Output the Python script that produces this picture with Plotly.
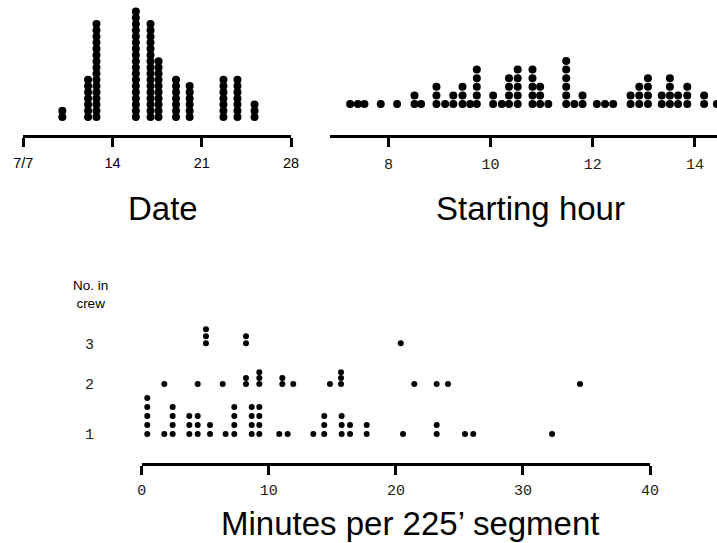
import plotly.graph_objects as go

W, H = 717, 543

# ---------------- data ----------------
# Date panel (day of July, dot-stack centres) and number of dots per stack
date_pos = [10.06, 12.08, 12.74, 15.83, 16.98, 17.61, 18.98, 20.05, 22.70, 23.80, 25.14]
date_counts = [2, 7, 16, 18, 16, 10, 7, 6, 7, 7, 3]
date_ticks = [7, 14, 21, 28]
date_ticktext = ["7/7", "14", "21", "28"]

# Starting hour panel
hour_pos = [7.25, 7.40, 7.53, 7.85, 8.17, 8.51, 8.64, 8.94, 9.11, 9.27, 9.45, 9.60,
            9.73, 10.05, 10.22, 10.36, 10.53, 10.82, 10.97, 11.13, 11.48, 11.64,
            11.80, 12.08, 12.24, 12.40, 12.74, 12.91, 13.08, 13.35, 13.51, 13.67,
            13.85, 14.18, 14.43]
hour_counts = [1, 1, 1, 1, 1, 2, 1, 3, 1, 2, 3, 1, 5, 2, 1, 4, 5, 5, 3, 1, 6, 1,
               2, 1, 1, 1, 2, 3, 4, 2, 4, 2, 3, 2, 1]
hour_ticks = [8, 10, 12, 14]

# Minutes per 225' segment, by number in crew
crew1_pos = [-2.42, -1.79, 0.43, 1.77, 2.43, 3.74, 4.40, 5.37, 6.60, 7.28, 8.65, 9.25,
             10.82, 11.48, 13.50, 14.36, 15.73, 16.39, 17.70, 20.56, 23.21, 25.44,
             26.09, 32.29]
crew1_counts = [2, 1, 5, 1, 4, 3, 3, 2, 1, 4, 4, 4, 1, 1, 1, 3, 3, 2, 2, 1, 2, 1, 1, 1]
crew2_pos = [1.77, 4.40, 6.37, 8.20, 9.25, 11.06, 11.92, 14.81, 15.68, 21.45, 23.21,
             24.10, 34.49]
crew2_counts = [1, 1, 1, 2, 3, 2, 1, 1, 3, 1, 1, 1, 1]
crew3_pos = [5.05, 8.20, 20.38]
crew3_counts = [3, 2, 1]
minute_ticks = [0, 10, 20, 30, 40]
crew_levels = [1, 2, 3]

# ---------------- layout constants (pixels from top) ----------------
DATE_BASE, DATE_STEP = 117, 6.2
HOUR_BASE, HOUR_STEP = 104, 8.6
CREW_BASE = {1: 434, 2: 384, 3: 343.3}
CREW_STEP = {1: 9.0, 2: 5.9, 3: 7.0}
TOP_AXIS_Y, BOT_AXIS_Y = 136, 464


def stack(pos, counts, base, step):
    xs, ys = [], []
    for p, c in zip(pos, counts):
        for k in range(c):
            xs.append(p)
            ys.append(base - k * step)
    return xs, ys


fig = go.Figure()

dx, dy = stack(date_pos, date_counts, DATE_BASE, DATE_STEP)
fig.add_trace(go.Scatter(x=dx, y=dy, mode="markers", xaxis="x", yaxis="y",
                         marker=dict(size=8, color="black"), cliponaxis=False,
                         hoverinfo="skip", showlegend=False))

hx, hy = stack(hour_pos, hour_counts, HOUR_BASE, HOUR_STEP)
fig.add_trace(go.Scatter(x=hx, y=hy, mode="markers", xaxis="x2", yaxis="y",
                         marker=dict(size=8, color="black"), cliponaxis=False,
                         hoverinfo="skip", showlegend=False))

for lvl, pos, cnt in zip(crew_levels, [crew1_pos, crew2_pos, crew3_pos],
                         [crew1_counts, crew2_counts, crew3_counts]):
    mx, my = stack(pos, cnt, CREW_BASE[lvl], CREW_STEP[lvl])
    fig.add_trace(go.Scatter(x=mx, y=my, mode="markers", xaxis="x3", yaxis="y",
                             marker=dict(size=6, color="black"), cliponaxis=False,
                             hoverinfo="skip", showlegend=False))

sans = "Liberation Sans, Arial, sans-serif"
mono = "Liberation Mono, Courier New, monospace"

axis_common = dict(showgrid=False, zeroline=False, showline=True, linecolor="black",
                   linewidth=2.5, ticks="outside", ticklen=9, tickwidth=2.5,
                   tickcolor="black", anchor="free", fixedrange=True,
                   automargin=False)

fig.update_layout(
    width=W, height=H, autosize=False,
    margin=dict(l=0, r=0, t=0, b=0, pad=0, autoexpand=False),
    paper_bgcolor="white", plot_bgcolor="rgba(0,0,0,0)",
    xaxis=dict(domain=[23.3 / W, 291 / W], range=[7, 28], tickvals=date_ticks,
               ticktext=date_ticktext, position=1 - TOP_AXIS_Y / H,
               tickfont=dict(family=sans, size=14.5, color="black"),
               ticklabelstandoff=4, **axis_common),
    xaxis2=dict(domain=[330 / W, 1], range=[6.856, 14.432], tickvals=hour_ticks,
                position=1 - TOP_AXIS_Y / H,
                tickfont=dict(family=mono, size=15, color="#222"),
                ticklabelstandoff=4, **axis_common),
    xaxis3=dict(domain=[141.8 / W, 650 / W], range=[0, 40], tickvals=minute_ticks,
                position=1 - BOT_AXIS_Y / H,
                tickfont=dict(family=mono, size=15, color="#222"),
                ticklabelstandoff=2, **axis_common),
    yaxis=dict(domain=[0, 1], range=[H, 0], showgrid=False, zeroline=False,
               showline=False, ticks="", anchor="free", position=94 / W,
               automargin=False,
               tickvals=[CREW_BASE[l] for l in crew_levels],
               ticktext=[str(l) for l in crew_levels],
               tickfont=dict(family=mono, size=15, color="#222"), fixedrange=True),
    annotations=[
        dict(text="Date", x=162.5 / W, y=1 - 208.4 / H, xref="paper", yref="paper",
             showarrow=False, xanchor="center", yanchor="middle",
             font=dict(family=sans, size=33, color="black")),
        dict(text="Starting hour", x=530.8 / W, y=1 - 208.4 / H, xref="paper",
             yref="paper", showarrow=False, xanchor="center", yanchor="middle",
             font=dict(family=sans, size=33, color="black")),
        dict(text="Minutes per 225\u2019 segment", x=410 / W, y=1 - 523.4 / H,
             xref="paper", yref="paper", showarrow=False, xanchor="center",
             yanchor="middle", font=dict(family=sans, size=33, color="black")),
        dict(text="No. in<br>crew", x=90 / W, y=1 - 295 / H, xref="paper",
             yref="paper", showarrow=False, xanchor="center", yanchor="middle",
             align="center", font=dict(family=sans, size=13.5, color="black")),
    ],
)

fig.write_html("out.html", config={"displayModeBar": False},
               post_script="document.body.style.margin='0';"
                           "document.body.style.overflow='hidden';")
